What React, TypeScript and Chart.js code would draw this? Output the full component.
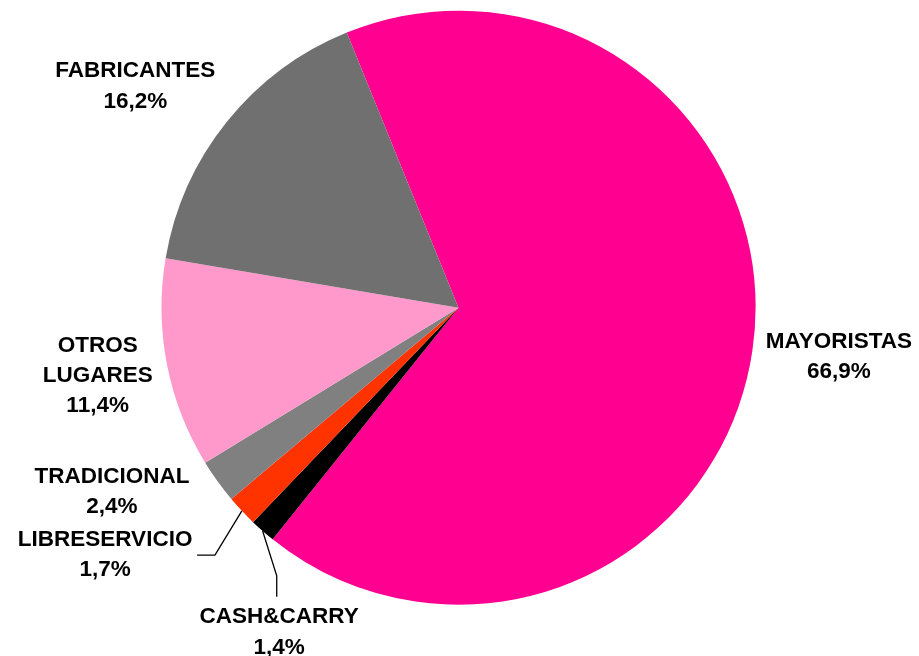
import React, { useEffect, useRef } from "react";
import { Chart, registerables } from "chart.js";

Chart.register(...registerables);

const categories = ["MAYORISTAS", "CASH&CARRY", "LIBRESERVICIO", "TRADICIONAL", "OTROS LUGARES", "FABRICANTES"];
const values = [66.9, 1.4, 1.7, 2.4, 11.4, 16.2];
const valueLabels = ["66,9%", "1,4%", "1,7%", "2,4%", "11,4%", "16,2%"];
const labelLines = [["MAYORISTAS"], ["CASH&CARRY"], ["LIBRESERVICIO"], ["TRADICIONAL"], ["OTROS", "LUGARES"], ["FABRICANTES"]];
const colors = ["#FF0090", "#000000", "#FF3300", "#808080", "#FF99CC", "#707070"];

// label placement relative to pie center, in units of radius (x center, first baseline)
const labelPos: [number, number][] = [
  [1.281, 0.135],
  [-0.604, 1.063],
  [-1.19, 0.802],
  [-1.167, 0.589],
  [-1.215, 0.148],
  [-1.088, -0.776],
];
// leader lines: list of points (relative to center, in radius units) after the arc edge point
const leaders: ([number, number][] | null)[] = [
  null,
  [[-0.612, 0.903], [-0.612, 0.973]],
  [[-0.82, 0.833], [-0.88, 0.833]],
  null,
  null,
  null,
];

const labelPlugin = {
  id: "pieLabels",
  afterDatasetsDraw(chart: any) {
    const ctx = chart.ctx;
    const meta = chart.getDatasetMeta(0);
    ctx.save();
    meta.data.forEach((arc: any, i: number) => {
      const { x, y, startAngle, endAngle, outerRadius } = arc.getProps(["x", "y", "startAngle", "endAngle", "outerRadius"], true);
      const r = outerRadius;
      const mid = (startAngle + endAngle) / 2;
      const lead = leaders[i];
      if (lead) {
        ctx.beginPath();
        ctx.strokeStyle = "#000";
        ctx.lineWidth = 1.3;
        ctx.moveTo(x + Math.cos(mid) * r, y + Math.sin(mid) * r);
        lead.forEach(([px, py]) => ctx.lineTo(x + px * r, y + py * r));
        ctx.stroke();
      }
      const [lx, ly] = labelPos[i];
      const tx = x + lx * r;
      let ty = y + ly * r;
      ctx.fillStyle = "#000";
      ctx.font = "bold 22.5px 'Liberation Sans', Arial, sans-serif";
      ctx.textAlign = "center";
      ctx.textBaseline = "alphabetic";
      const lines = [...labelLines[i], valueLabels[i]];
      lines.forEach((t) => {
        ctx.fillText(t, tx, ty);
        ty += 30.3;
      });
    });
    ctx.restore();
  },
};

export default function App() {
  const ref = useRef<HTMLCanvasElement>(null);
  useEffect(() => {
    if (!ref.current) return;
    const chart = new Chart(ref.current, {
      type: "pie",
      data: {
        labels: categories,
        datasets: [
          {
            data: values,
            backgroundColor: colors,
            borderWidth: 0,
          },
        ],
      },
      options: {
        animation: false,
        responsive: false,
        rotation: -22.1,
        layout: { padding: { top: 10.7, bottom: 51.3, left: 0, right: 2 } },
        plugins: {
          legend: { display: false },
          tooltip: { enabled: false },
        },
      },
      plugins: [labelPlugin],
    });
    return () => chart.destroy();
  }, []);
  return (
    <div style={{ position: "fixed", left: 0, top: 0, width: 919, height: 656, background: "#fff" }}>
      <canvas ref={ref} width={919} height={656} style={{ width: 919, height: 656 }} />
    </div>
  );
}
